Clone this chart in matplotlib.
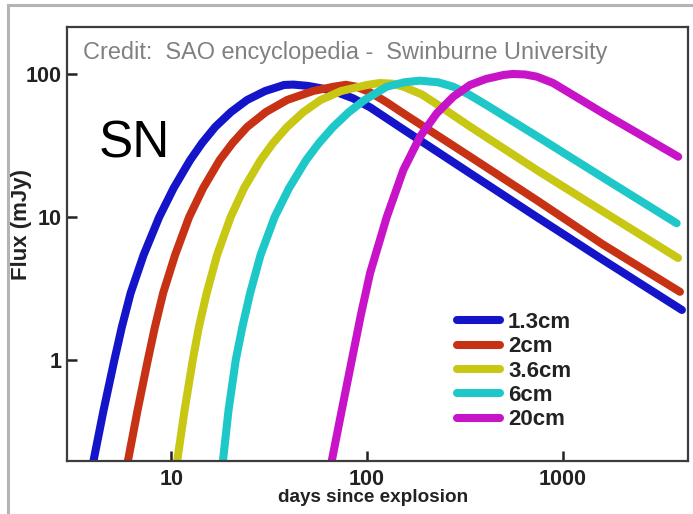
import matplotlib
matplotlib.use("Agg")
import matplotlib.pyplot as plt
from matplotlib.ticker import NullLocator, FixedLocator, FixedFormatter
from matplotlib.lines import Line2D

# ---- data ----
labels = ["1.3cm", "2cm", "3.6cm", "6cm", "20cm"]
colors = ["#1414c8", "#c83214", "#c8c814", "#1ec8c8", "#c814c8"]

days_13 = [3.96, 4.52, 5.13, 5.60, 6.21, 7.23, 8.69, 10.30, 12.50, 14.38, 16.77, 20.19, 24.42, 30.17,
           37.72, 42, 50, 60, 72, 85, 103.5, 153, 336, 735, 1607, 4045]
flux_13 = [0.18, 0.447, 1.0, 1.70, 2.94, 5.42, 10, 15.95, 25.0, 32.9, 42.6, 54.2, 65.8, 76.0,
           83.8, 84.3, 82.5, 78.8, 73.5, 67.5, 58.5, 41.0, 20.2, 10.0, 5.0, 2.24]

days_2 = [5.94, 6.74, 7.60, 8.26, 9.10, 10.47, 12.35, 14.57, 17.68, 20.57, 24.42, 30.45, 39.06, 53.03,
          67.6, 78, 88, 103.5, 125, 153, 336, 735, 1607, 3954]
flux_2 = [0.18, 0.447, 1.0, 1.70, 2.94, 5.42, 10, 15.95, 25.0, 32.9, 42.6, 54.2, 65.8, 76.0,
          81.5, 84.0, 81.5, 74.5, 63.8, 53.1, 26.4, 13.1, 6.4, 3.0]

days_36 = [10.63, 11.71, 12.89, 13.85, 15.18, 17.15, 20.12, 23.57, 28.62, 33.11, 39.06, 47.32, 57.91,
           73.69, 100, 116, 135, 153, 190, 227, 336, 735, 1607, 3864]
flux_36 = [0.18, 0.447, 1.0, 1.70, 2.94, 5.42, 10, 15.95, 25.0, 32.9, 42.6, 54.2, 65.8,
           76.0, 83.8, 86.5, 85.5, 81.5, 72.0, 61.5, 42.8, 21.3, 10.9, 5.17]

days_6 = [18.24, 19.63, 21.36, 23.08, 25.30, 28.59, 33.74, 39.99, 48.85, 56.83, 67.07, 80.75, 97.1,
          126, 155, 186, 230, 275, 330, 408, 735, 1607, 3802]
flux_6 = [0.18, 0.447, 1.0, 1.70, 2.94, 5.42, 10, 15.95, 25.0, 32.9, 42.6, 54.2, 65.8,
          81.5, 87.5, 89.8, 87.5, 81.5, 72.0, 60.5, 36.8, 18.8, 9.04]

days_20 = [65.15, 74.27, 83.56, 92.9, 103.6, 126, 153.1, 186.4, 226.8, 275.6, 335.4, 404.6, 497, 556,
           639.7, 735, 889, 1087, 1607, 3873]
flux_20 = [0.18, 0.447, 1.0, 2.06, 4.06, 10, 21.3, 36.5, 53.1, 69.4, 83.8, 92.3, 98.4, 100,
           99.2, 95.8, 86.5, 73.3, 53.1, 26.4]

series_days = [days_13, days_2, days_36, days_6, days_20]
series_flux = [flux_13, flux_2, flux_36, flux_6, flux_20]

x_ticks = [10, 100, 1000]
x_ticklabels = ["10", "100", "1000"]
y_ticks = [1, 10, 100]
y_ticklabels = ["1", "10", "100"]

# ---- figure ----
W, H = 693, 514
fig = plt.figure(figsize=(W / 100, H / 100), dpi=100)
fig.patch.set_facecolor("white")

def fx(px):
    return px / W

def fy(py):
    return 1 - py / H

# outer grey frame
fig.add_artist(Line2D([fx(8), fx(693)], [fy(5), fy(5)], color="#b4b4b4", lw=2.2, transform=fig.transFigure))
fig.add_artist(Line2D([fx(8), fx(8)], [fy(5), fy(514)], color="#b4b4b4", lw=2.2, transform=fig.transFigure))

left, right, top, bottom = 67, 688, 27, 461
ax = fig.add_axes([fx(left), fy(bottom), fx(right) - fx(left), fy(top) - fy(bottom)])
ax.set_xscale("log")
ax.set_yscale("log")
ax.set_xlim(2.94, 4345)
ax.set_ylim(0.197, 213)

for d, f, c, lab in zip(series_days, series_flux, colors, labels):
    ax.plot(d, f, color=c, lw=5.8, solid_capstyle="round", solid_joinstyle="round", label=lab)

for s in ax.spines.values():
    s.set_color("#3c3c3c")
    s.set_linewidth(1.6)

ax.xaxis.set_major_locator(FixedLocator(x_ticks))
ax.xaxis.set_major_formatter(FixedFormatter(x_ticklabels))
ax.yaxis.set_major_locator(FixedLocator(y_ticks))
ax.yaxis.set_major_formatter(FixedFormatter(y_ticklabels))
ax.xaxis.set_minor_locator(NullLocator())
ax.yaxis.set_minor_locator(NullLocator())
ax.tick_params(axis="both", direction="in", length=7, width=1.8, color="#222222")
ax.tick_params(axis="x", pad=6)
ax.tick_params(axis="y", pad=4)
for t in ax.get_xticklabels() + ax.get_yticklabels():
    t.set_fontfamily("Liberation Sans")
    t.set_fontweight("bold")
    t.set_fontsize(15.5)
    t.set_color("#222222")

fig.text(fx(373), fy(497), "days since explosion", ha="center", va="center",
         fontsize=13.6, fontweight="bold", family="Liberation Sans", color="#222222")
fig.text(fx(22), fy(225), "Flux (mJy)", ha="center", va="center", rotation=90,
         fontsize=16, fontweight="bold", family="Liberation Sans", color="#222222")

fig.text(fx(83), fy(52), "Credit:  SAO encyclopedia -  Swinburne University", ha="left", va="center",
         fontsize=16.9, family="Liberation Sans", color="#808080")
fig.text(fx(99), fy(144), "SN", ha="left", va="center", fontsize=37, family="Liberation Sans", color="black")

leg = ax.legend(loc="upper left", bbox_to_anchor=(fx(457), fy(312)), bbox_transform=fig.transFigure,
                frameon=False, borderpad=0, borderaxespad=0, handlelength=1.95, handletextpad=0.35,
                labelspacing=0.15, prop={"family": "Liberation Sans", "weight": "bold", "size": 16})
for t in leg.get_texts():
    t.set_color("#222222")

fig.savefig("out.png", dpi=100, facecolor="white")
